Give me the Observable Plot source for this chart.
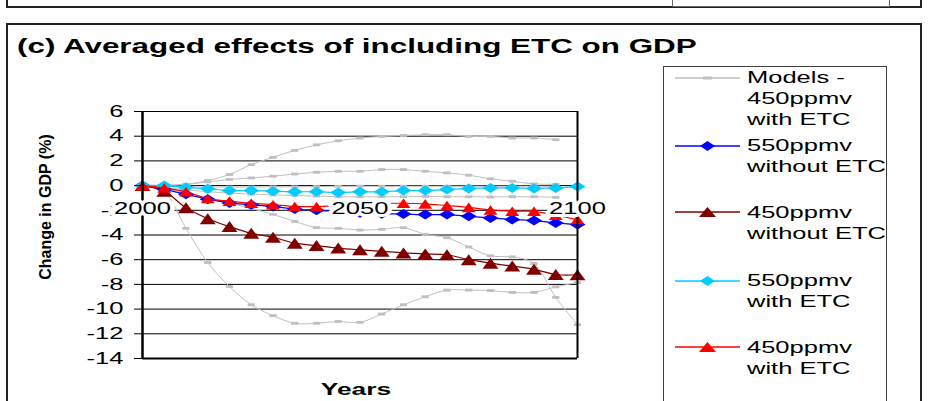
<!DOCTYPE html>
<html><head><meta charset="utf-8">
<script src="https://cdn.jsdelivr.net/npm/d3@7"></script>
<script src="https://cdn.jsdelivr.net/npm/@observablehq/plot@0.6"></script>
<style>
body{margin:0;background:#fff;font-family:"Liberation Sans",Arial,sans-serif;}
#wrap{position:relative;width:934px;height:401px;overflow:hidden;background:#fff;}
#wrap > svg{position:absolute;left:0;top:0;}
.abs{position:absolute;box-sizing:border-box;}
.title{left:17px;top:37px;font-weight:bold;font-size:19.5px;line-height:19.5px;white-space:nowrap;transform:scaleX(1.61);transform-origin:left center;color:#000;}
.legtext{font-size:17px;line-height:21px;white-space:nowrap;transform:scaleX(1.5);transform-origin:left center;color:#000;}
</style></head>
<body><div id="wrap"></div>
<script>
// ---- data ----
const years = [2000, 2005, 2010, 2015, 2020, 2025, 2030, 2035, 2040, 2045, 2050, 2055, 2060, 2065, 2070, 2075, 2080, 2085, 2090, 2095, 2100];
// individual models, 450ppmv with ETC (grey)
const modelA = [0, 0.02, 0.1, 0.41, 0.9, 1.7, 2.29, 2.85, 3.3, 3.63, 3.85, 3.98, 4.06, 4.12, 4.12, 3.98, 3.98, 3.85, 3.85, 3.72, null];
const modelB = [0, 0.02, 0.1, 0.3, 0.5, 0.62, 0.76, 0.94, 1.08, 1.16, 1.16, 1.3, 1.3, 1.16, 1.03, 0.84, 0.55, 0.35, 0.14, 0.1, null];
const modelC = [0, -0.05, -0.1, -0.1, -0.12, -0.12, -0.1, -0.1, -0.08, -0.05, -0.05, -0.05, -0.05, -0.05, -0.05, -0.05, -0.05, -0.05, -0.05, -0.05, null];
const modelD = [0, -0.2, -0.6, -1.0, -1.4, -1.85, -2.33, -2.9, -3.4, -3.46, -3.6, -3.54, -3.41, -3.95, -4.22, -4.97, -5.69, -5.77, -6.31, -9.05, -11.26];
const modelE = [0, -0.15, -0.35, -0.5, -0.6, -0.7, -0.75, -0.8, -0.85, -0.9, -0.9, -0.9, -0.9, -0.88, -0.9, -0.9, -0.92, -0.9, -0.9, -0.95, null];
const modelF = [0, -0.5, -3.46, -6.23, -8.17, -9.65, -10.53, -11.15, -11.15, -11.0, -11.07, -10.4, -9.65, -9.0, -8.46, -8.46, -8.5, -8.65, -8.65, -8.2, -7.85];
// averages
const gdp550withoutETC = [0, -0.3, -0.7, -1.1, -1.4, -1.55, -1.7, -1.9, -2.0, -2.1, -2.2, -2.27, -2.3, -2.35, -2.35, -2.48, -2.62, -2.75, -2.83, -3.02, -3.15];
const gdp450withoutETC = [0, -0.45, -1.8, -2.68, -3.32, -3.86, -4.18, -4.66, -4.85, -5.06, -5.2, -5.32, -5.45, -5.53, -5.6, -6.0, -6.28, -6.52, -6.78, -7.2, -7.22];
const gdp550withETC = [0, 0, -0.15, -0.25, -0.4, -0.4, -0.45, -0.5, -0.5, -0.55, -0.5, -0.5, -0.4, -0.4, -0.32, -0.23, -0.19, -0.19, -0.23, -0.19, -0.08];
const gdp450withETC = [0, -0.2, -0.5, -1.05, -1.26, -1.43, -1.55, -1.69, -1.7, -1.62, -1.52, -1.45, -1.43, -1.48, -1.62, -1.76, -1.97, -2.08, -2.08, -2.4, -2.75];
// axes
const yTicks = [-14, -12, -10, -8, -6, -4, -2, 0, 2, 4, 6];
const xTickLabels = [2000, 2050, 2100];
const titleText = "(c) Averaged effects of including ETC on GDP";
const xTitle = "Years";
const yTitle = "Change in GDP (%)";
const legendLabels = [["Models -", "450ppmv", "with ETC"], ["550ppmv", "without ETC"], ["450ppmv", "without ETC"], ["550ppmv", "with ETC"], ["450ppmv", "with ETC"]];

// ---- colours / markers ----
const GREY = "#c0c0c0", BLUE = "#0000ff", DARKRED = "#800000", CYAN = "#00ccff", RED = "#ff0000";
const wideDiamond = {draw(ctx, size) { const r = Math.sqrt(size / Math.PI), w = r * 1.6, h = r; ctx.moveTo(0, -h); ctx.lineTo(w, 0); ctx.lineTo(0, h); ctx.lineTo(-w, 0); ctx.closePath(); }};
const wideTriangle = {draw(ctx, size) { const r = Math.sqrt(size / Math.PI), w = r * 1.45, h = r; ctx.moveTo(0, -h); ctx.lineTo(w, h); ctx.lineTo(-w, h); ctx.closePath(); }};
const dash = {draw(ctx, size) { const r = Math.sqrt(size / Math.PI); ctx.rect(-r, -r * 0.4, 2 * r, r * 0.8); }};

const rows = (vals) => years.map((year, i) => ({year, value: vals[i]})).filter(d => d.value != null);
const modelRows = [modelA, modelB, modelC, modelD, modelE, modelF].flatMap((vals, k) => rows(vals).map(d => ({...d, model: k})));

const seriesMarks = (vals, color, symbol, r) => [
  Plot.line(rows(vals), {x: "year", y: "value", stroke: color, strokeWidth: 1.2, curve: "catmull-rom"}),
  Plot.dot(rows(vals), {x: "year", y: "value", symbol, r, fill: color, stroke: "none"})
];

const yAxisMark = Plot.axisY
  ? Plot.axisY(yTicks, {tickSize: 8, tickPadding: 11, tickFormat: d => String(d), fontSize: 16.5, label: null, stroke: "#000"})
  : null;

const chart = Plot.plot({
  width: 934, height: 401,
  marginLeft: 142, marginRight: 357, marginTop: 111, marginBottom: 43,
  style: {fontFamily: "Liberation Sans, Arial, sans-serif", background: "transparent", color: "#000"},
  x: {domain: [2000, 2100], axis: null},
  y: Plot.axisY ? {domain: [-14, 6], axis: null} : {domain: [-14, 6], ticks: yTicks, tickSize: 8, tickPadding: 11, tickFormat: d => String(d), label: null},
  marks: [
    Plot.ruleY(yTicks, {x1: 2000, x2: 2100, stroke: "#000", strokeWidth: 1}),
    Plot.line(modelRows, {x: "year", y: "value", z: "model", stroke: GREY, strokeWidth: 1, curve: "catmull-rom"}),
    Plot.dot(modelRows, {x: "year", y: "value", symbol: dash, r: 3.6, fill: GREY, stroke: "none"}),
    ...seriesMarks(gdp550withoutETC, BLUE, wideDiamond, 5),
    ...seriesMarks(gdp450withoutETC, DARKRED, wideTriangle, 5.5),
    ...seriesMarks(gdp550withETC, CYAN, wideDiamond, 5),
    ...seriesMarks(gdp450withETC, RED, wideTriangle, 4.8),
    Plot.ruleY([-14], {x1: 2000, x2: 2100, stroke: "#000", strokeWidth: 2}),
    Plot.ruleX([2100], {y1: -14, y2: 6, stroke: "#000", strokeWidth: 2}),
    Plot.ruleX([2000], {y1: -14, y2: 6, stroke: "#000", strokeWidth: 2.5}),
    ...(yAxisMark ? [yAxisMark] : []),
    Plot.text(xTickLabels, {x: d => d, y: 0, text: d => String(d), dy: 23, fontSize: 16.5, fill: "#000", stroke: "#fff", strokeWidth: 6, strokeLinejoin: "round"}),
    Plot.text([xTitle], {frameAnchor: "bottom", textAnchor: "middle", lineAnchor: "middle", dy: 31, dx: -4, fontSize: 17, fontWeight: "bold", fill: "#000"}),
    Plot.text([yTitle], {frameAnchor: "left", textAnchor: "middle", lineAnchor: "middle", dx: -97, dy: -28, rotate: -90, fontSize: 16, fontWeight: "bold", fill: "#000"})
  ]
});

// widen the text horizontally like the stretched original
const K = 1.55;
chart.querySelectorAll("text").forEach(t => {
  const tr = t.getAttribute("transform") || "";
  t.style.paintOrder = "stroke";
  if (/rotate/.test(tr)) return;
  if (tr) t.setAttribute("transform", tr + ` scale(${K},1)`);
  else {
    const x = +(t.getAttribute("x") || 0);
    t.setAttribute("transform", `translate(${x},0) scale(${K},1) translate(${-x},0)`);
  }
});

const wrap = document.getElementById("wrap");
wrap.appendChild(chart);

// frames (chart borders)
function box(css) { const d = document.createElement("div"); d.className = "abs"; d.style.cssText = css; wrap.appendChild(d); return d; }
box("left:6px;top:-10px;width:916px;height:18px;border:2px solid #222;");
box("left:672px;top:-10px;width:218px;height:17px;border:1px solid #666;");
box("left:6px;top:23px;width:916px;height:420px;border:2px solid #222;");

// title
const title = document.createElement("div");
title.className = "abs title"; title.textContent = titleText; wrap.appendChild(title);

// legend
box("left:663px;top:66px;width:224px;height:400px;border:1px solid #404040;");
const legendStyles = [
  {color: GREY, marker: "dash", cy: 77.5},
  {color: BLUE, marker: "diamond", cy: 145.5},
  {color: DARKRED, marker: "triangle", cy: 212.3},
  {color: CYAN, marker: "diamond", cy: 280.7},
  {color: RED, marker: "triangle", cy: 347.3}
];
legendLabels.forEach((lines, i) => {
  const s = legendStyles[i];
  let shape;
  if (s.marker === "dash") shape = `<rect x="28" y="5.5" width="9" height="3" fill="${s.color}"/>`;
  else if (s.marker === "diamond") shape = `<polygon points="25,7 32.5,2 40,7 32.5,12" fill="${s.color}"/>`;
  else shape = `<polygon points="24,12 32.5,2 41,12" fill="${s.color}"/>`;
  const sw = document.createElement("div");
  sw.className = "abs";
  sw.style.cssText = `left:675px;top:${s.cy - 7}px;width:66px;height:14px;`;
  sw.innerHTML = `<svg width="66" height="14"><line x1="0" x2="65" y1="7" y2="7" stroke="${s.color}" stroke-width="1.3"/>${shape}</svg>`;
  wrap.appendChild(sw);
  const tx = document.createElement("div");
  tx.className = "abs legtext";
  tx.style.left = "747px"; tx.style.top = (s.cy - 10.3) + "px";
  tx.innerHTML = lines.map(l => `<div>${l}</div>`).join("");
  wrap.appendChild(tx);
});
</script>
</body></html>
